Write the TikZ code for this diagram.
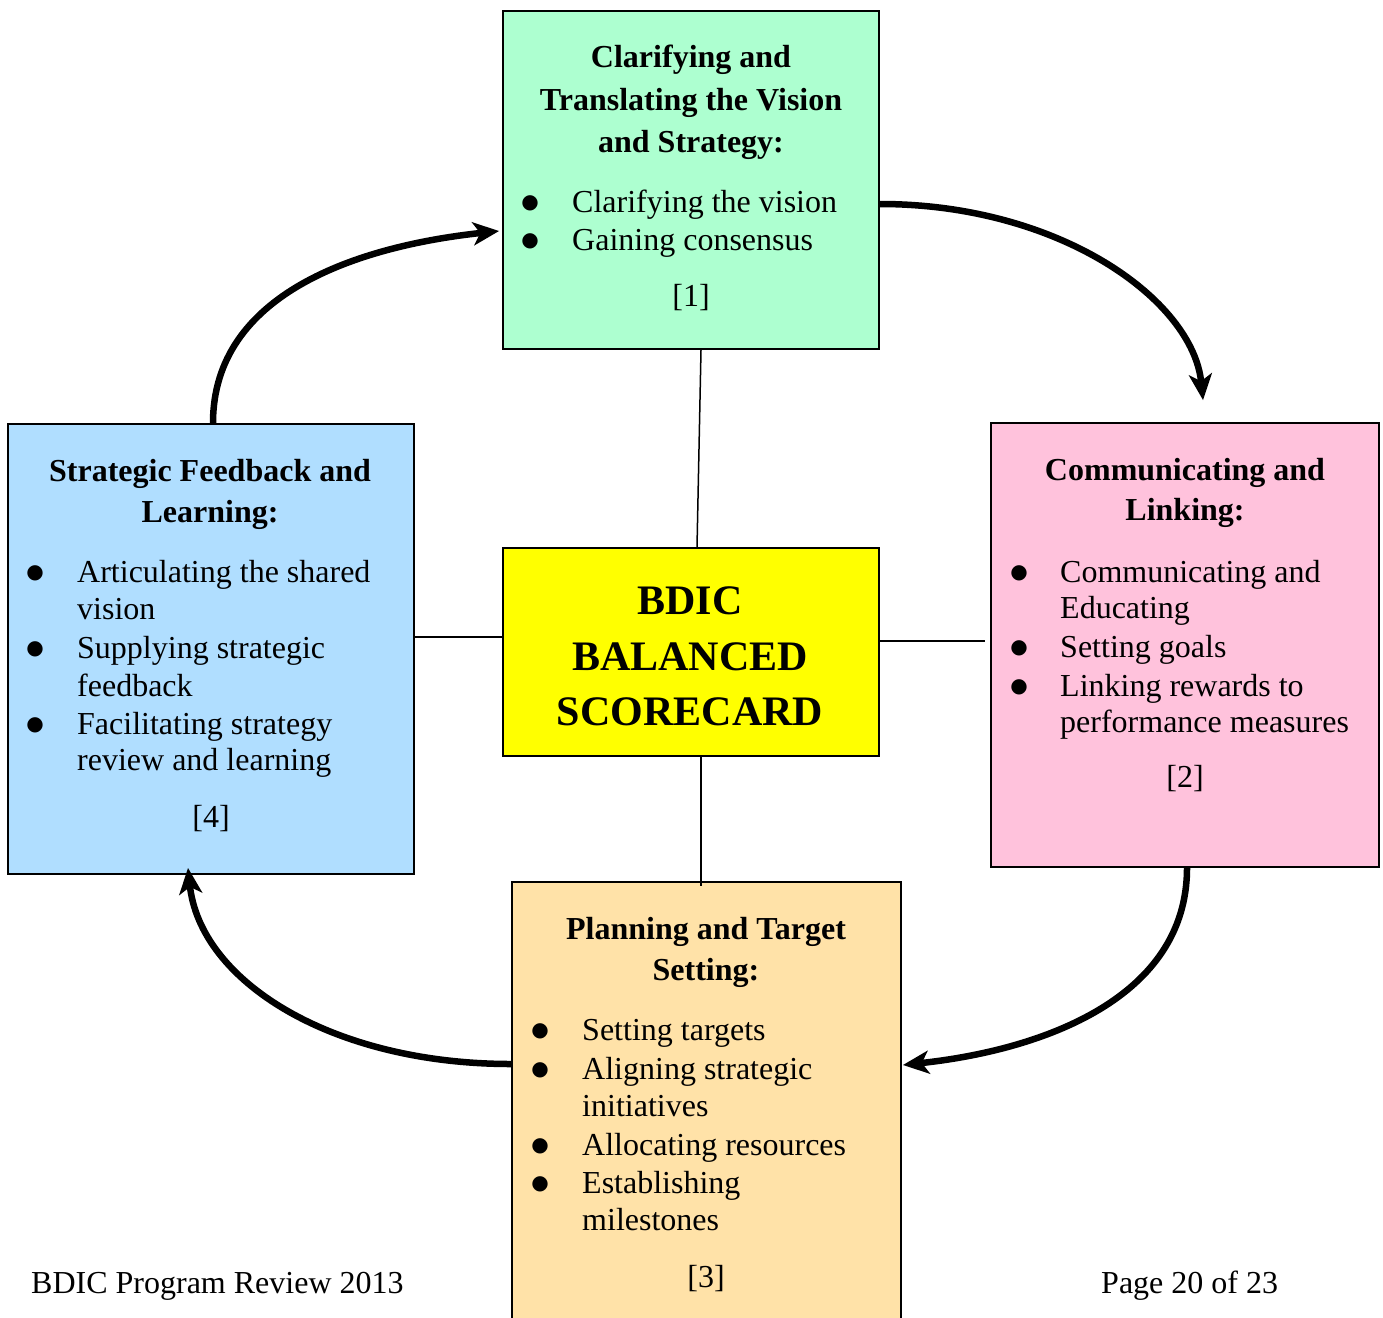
\documentclass[tikz,border=0pt]{standalone}
\usepackage{fontspec}
\setmainfont{Liberation Serif}
\newfontfamily\dvfont{DejaVu Sans}
\usetikzlibrary{arrows.meta}
\definecolor{cgreen}{RGB}{173,255,208}
\definecolor{cpink}{RGB}{255,194,220}
\definecolor{cblue}{RGB}{176,222,255}
\definecolor{cpeach}{RGB}{255,226,168}
\definecolor{cyel}{RGB}{255,255,0}
\newcommand{\bigbul}{\raisebox{3.9pt}{\dvfont\fontsize{20}{20}\selectfont ●}}
\begin{document}
\begin{tikzpicture}[x=1pt,y=-1pt,
 box/.style={draw=black, line width=1.8pt, inner sep=0pt},
 hd/.style={font=\fontsize{32}{38}\selectfont\bfseries, anchor=base, inner sep=0pt},
 tx/.style={font=\fontsize{32}{38}\selectfont, anchor=base west, inner sep=0pt},
 bu/.style={anchor=base, inner sep=0pt},
 nm/.style={font=\fontsize{32}{38}\selectfont, anchor=base, inner sep=0pt},
 ctrt/.style={font=\fontsize{42}{50}\selectfont\bfseries, anchor=base, inner sep=0pt},
 link/.style={line width=1.5pt},
 cyc/.style={line width=6.5pt, -{Stealth[length=26pt,width=23pt,inset=7pt]}}
]
\clip (0,0) rectangle (1383,1317);
\fill[white] (0,0) rectangle (1383,1317);

% boxes
\node[box, fill=cgreen, minimum width=376pt, minimum height=338pt] (top) at (691,180) {};
\node[box, fill=cpink, minimum width=388pt, minimum height=444pt] (right) at (1185,645) {};
\node[box, fill=cblue, minimum width=406pt, minimum height=450pt] (left) at (211,649) {};
\node[box, fill=cyel, minimum width=376pt, minimum height=208pt] (ctr) at (691,652) {};
\node[box, fill=cpeach, minimum width=389pt, minimum height=458pt] (bot) at (706.5,1111) {};

% thin links
\draw[link] ([xshift=10pt]top.south) -- ([xshift=6pt]ctr.north);
\draw[link] ([yshift=12pt]left.east) -- ([yshift=15pt]ctr.west);
\draw[link] ([yshift=11pt]ctr.east) -- ([yshift=4pt,xshift=-5pt]right.west);
\draw[link] ([xshift=10pt]ctr.south) -- ([xshift=-5.5pt,yshift=-5pt]bot.north);

% cycle arrows
\draw[cyc] ([xshift=2pt]left.north) .. controls +(0,-130) and +(-140,15) .. ([yshift=-51pt,xshift=-3pt]top.west);
\draw[cyc] ([yshift=-24pt]top.east) .. controls +(180,0) and +(-10,-100) .. ([xshift=18pt,yshift=22pt]right.north);
\draw[cyc] ([xshift=2pt]right.south) .. controls +(0,130) and +(140,-15) .. ([yshift=46pt,xshift=1pt]bot.east);
\draw[cyc] ([yshift=47pt]bot.west) .. controls +(-180,0) and +(12,113) .. ([xshift=-23pt,yshift=7pt]left.south);

% top box text
\node[hd] (t1) at (691,67) {Clarifying and};
\node[hd] (t2) at (691,110) {Translating the Vision};
\node[hd] (t3) at (691,152) {and Strategy:};
\node[bu] (tb1) at (530,212) {\bigbul};
\node[tx] (ta1) at (572,212) {Clarifying the vision};
\node[bu] (tb2) at (530,250) {\bigbul};
\node[tx] (ta2) at (572,250) {Gaining consensus};
\node[nm] (tn) at (691,306) {[1]};

% right box text
\node[hd] (r1) at (1185,480) {Communicating and};
\node[hd] (r2) at (1185,520) {Linking:};
\node[bu] (rb1) at (1019,582) {\bigbul};
\node[tx] (ra1) at (1060,582) {Communicating and};
\node[tx] (ra2) at (1060,618) {Educating};
\node[bu] (rb2) at (1019,657) {\bigbul};
\node[tx] (ra3) at (1060,657) {Setting goals};
\node[bu] (rb3) at (1019,696) {\bigbul};
\node[tx] (ra4) at (1060,696) {Linking rewards to};
\node[tx] (ra5) at (1060,732) {performance measures};
\node[nm] (rn) at (1185,787) {[2]};

% left box text
\node[hd] (l1) at (210,481) {Strategic Feedback and};
\node[hd] (l2) at (210,522) {Learning:};
\node[bu] (lb1) at (35,582) {\bigbul};
\node[tx] (la1) at (77,582) {Articulating the shared};
\node[tx] (la2) at (77,619) {vision};
\node[bu] (lb2) at (35,658) {\bigbul};
\node[tx] (la3) at (77,658) {Supplying strategic};
\node[tx] (la4) at (77,696) {feedback};
\node[bu] (lb3) at (35,734) {\bigbul};
\node[tx] (la5) at (77,734) {Facilitating strategy};
\node[tx] (la6) at (77,770) {review and learning};
\node[nm] (ln) at (211,827) {[4]};

% center text
\node[ctrt] (c1) at (690,614) {BDIC};
\node[ctrt] (c2) at (690,670) {BALANCED};
\node[ctrt] (c3) at (690,725) {SCORECARD};

% bottom box text
\node[hd] (b1) at (706,939) {Planning and Target};
\node[hd] (b2) at (706,980) {Setting:};
\node[bu] (bb1) at (540,1040) {\bigbul};
\node[tx] (ba1) at (582,1040) {Setting targets};
\node[bu] (bb2) at (540,1079) {\bigbul};
\node[tx] (ba2) at (582,1079) {Aligning strategic};
\node[tx] (ba3) at (582,1116) {initiatives};
\node[bu] (bb3) at (540,1155) {\bigbul};
\node[tx] (ba4) at (582,1155) {Allocating resources};
\node[bu] (bb4) at (540,1193) {\bigbul};
\node[tx] (ba5) at (582,1193) {Establishing};
\node[tx] (ba6) at (582,1230) {milestones};
\node[nm] (bn) at (706,1287) {[3]};

% footer
\node[tx] (f1) at (31,1293) {BDIC Program Review 2013};
\node[tx] (f2) at (1101,1293) {Page 20 of 23};
\end{tikzpicture}
\end{document}
